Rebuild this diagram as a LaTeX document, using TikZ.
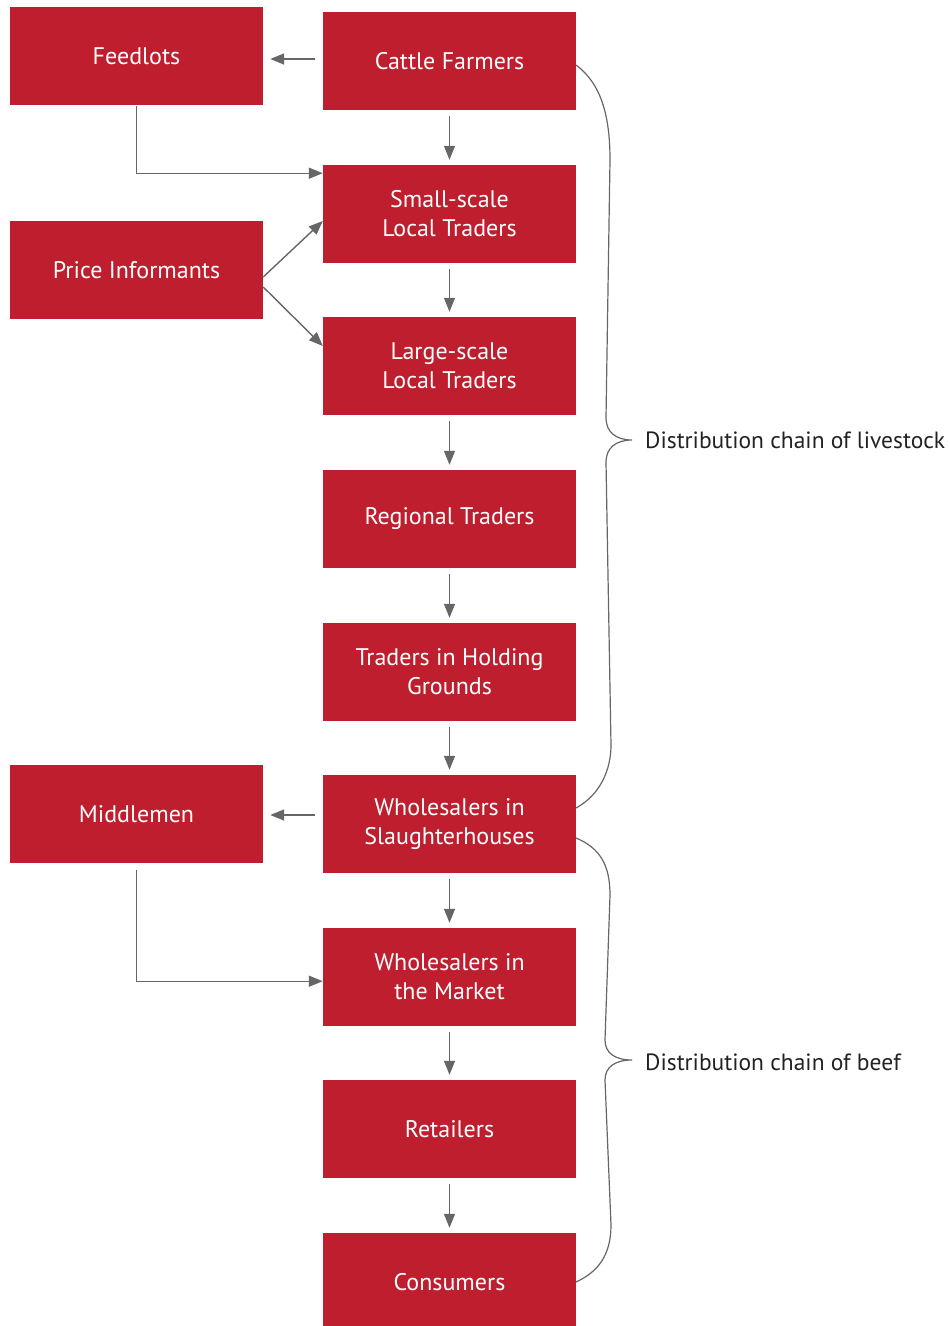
\documentclass[tikz,border=0pt]{standalone}
\usepackage{fontspec}
\setmainfont{PT Sans}
\usetikzlibrary{arrows.meta}
\definecolor{boxred}{HTML}{BE1E2D}
\definecolor{linegray}{HTML}{666666}
\definecolor{txtdark}{HTML}{222222}
\tikzset{
  box/.style={fill=boxred, draw=none, minimum width=253pt, minimum height=98pt,
    text=white, align=center, font=\fontsize{24pt}{29pt}\selectfont, inner sep=0pt},
  conn/.style={draw=linegray, line width=1.4pt, -{Triangle[length=14pt,width=11pt]}},
  bracel/.style={draw=linegray, line width=1.2pt},
  lbl/.style={text=txtdark, anchor=west, font=\fontsize{23.5pt}{26pt}\selectfont, inner sep=0pt}
}
\begin{document}
\begin{tikzpicture}[x=1pt,y=-1pt]
\useasboundingbox (0,0) rectangle (950,1326);
\clip (0,0) rectangle (950,1326);
% left column
\node[box] (feed) at (136.5,56) {Feedlots};
\node[box] (price) at (136.5,270) {Price Informants};
\node[box] (middle) at (136.5,814) {Middlemen};
% right column
\node[box] (cattle) at (449.5,61) {Cattle Farmers};
\node[box] (small) at (449.5,214) {Small-scale\\Local Traders};
\node[box] (large) at (449.5,366) {Large-scale\\Local Traders};
\node[box] (regional) at (449.5,519) {Regional Traders};
\node[box] (holding) at (449.5,672) {Traders in Holding\\Grounds};
\node[box] (slaughter) at (449.5,824) {Wholesalers in\\Slaughterhouses};
\node[box] (market) at (449.5,977) {Wholesalers in\\the Market};
\node[box] (retail) at (449.5,1129) {Retailers};
\node[box] (cons) at (449.5,1282) {Consumers};
% vertical arrows
\draw[conn] ([yshift=-6pt]cattle.south) -- ([yshift=5pt]small.north);
\draw[conn] ([yshift=-6pt]small.south) -- ([yshift=5pt]large.north);
\draw[conn] ([yshift=-6pt]large.south) -- ([yshift=5pt]regional.north);
\draw[conn] ([yshift=-6pt]regional.south) -- ([yshift=5pt]holding.north);
\draw[conn] ([yshift=-6pt]holding.south) -- ([yshift=5pt]slaughter.north);
\draw[conn] ([yshift=-6pt]slaughter.south) -- ([yshift=5pt]market.north);
\draw[conn] ([yshift=-6pt]market.south) -- ([yshift=5pt]retail.north);
\draw[conn] ([yshift=-6pt]retail.south) -- ([yshift=5pt]cons.north);
% horizontal arrows to the left
\coordinate (s1) at ([xshift=-8pt,yshift=2pt]cattle.west);
\draw[conn] (s1) -- ([xshift=7pt]feed.east |- s1);
\coordinate (s2) at ([xshift=-8pt,yshift=9pt]slaughter.west);
\draw[conn] (s2) -- ([xshift=7pt]middle.east |- s2);
% elbow arrows
\coordinate (fbend) at ([yshift=-68pt]feed.south);
\draw[conn] ([yshift=-1pt]feed.south) -- (fbend) -- (fbend -| small.west);
\coordinate (mbend) at ([yshift=-118pt]middle.south);
\draw[conn] ([yshift=-7pt]middle.south) -- (mbend) -- (mbend -| market.west);
% price informants
\draw[conn] ([yshift=-7pt]price.east) -- (small.west |- 0,221);
\draw[conn] ([yshift=-17pt]price.east) -- (large.west |- 0,346);
% braces
\coordinate (b1s) at (576,65);
\coordinate (b1t) at (632,440);
\coordinate (b1e) at (576,808);
\draw[bracel] (b1s) .. controls (603,85) and (610,120) .. (610,160)
  -- (606,418) .. controls (606,432) and (616,440) .. (b1t)
  .. controls (616,440) and (606,448) .. (606,462)
  -- (611,745) .. controls (611,770) and (600,795) .. (b1e);
\coordinate (b2s) at (576,838);
\coordinate (b2t) at (632,1060);
\coordinate (b2e) at (576,1282);
\draw[bracel] (b2s) .. controls (600,848) and (610,865) .. (610,895)
  -- (605,1040) .. controls (605,1053) and (615,1060) .. (b2t)
  .. controls (615,1060) and (605,1067) .. (605,1080)
  -- (611,1225) .. controls (611,1255) and (598,1272) .. (b2e);
\node[lbl] (l1) at (645,440) {Distribution chain of livestock};
\node[lbl] (l2) at (645,1062) {Distribution chain of beef};
\end{tikzpicture}
\end{document}
